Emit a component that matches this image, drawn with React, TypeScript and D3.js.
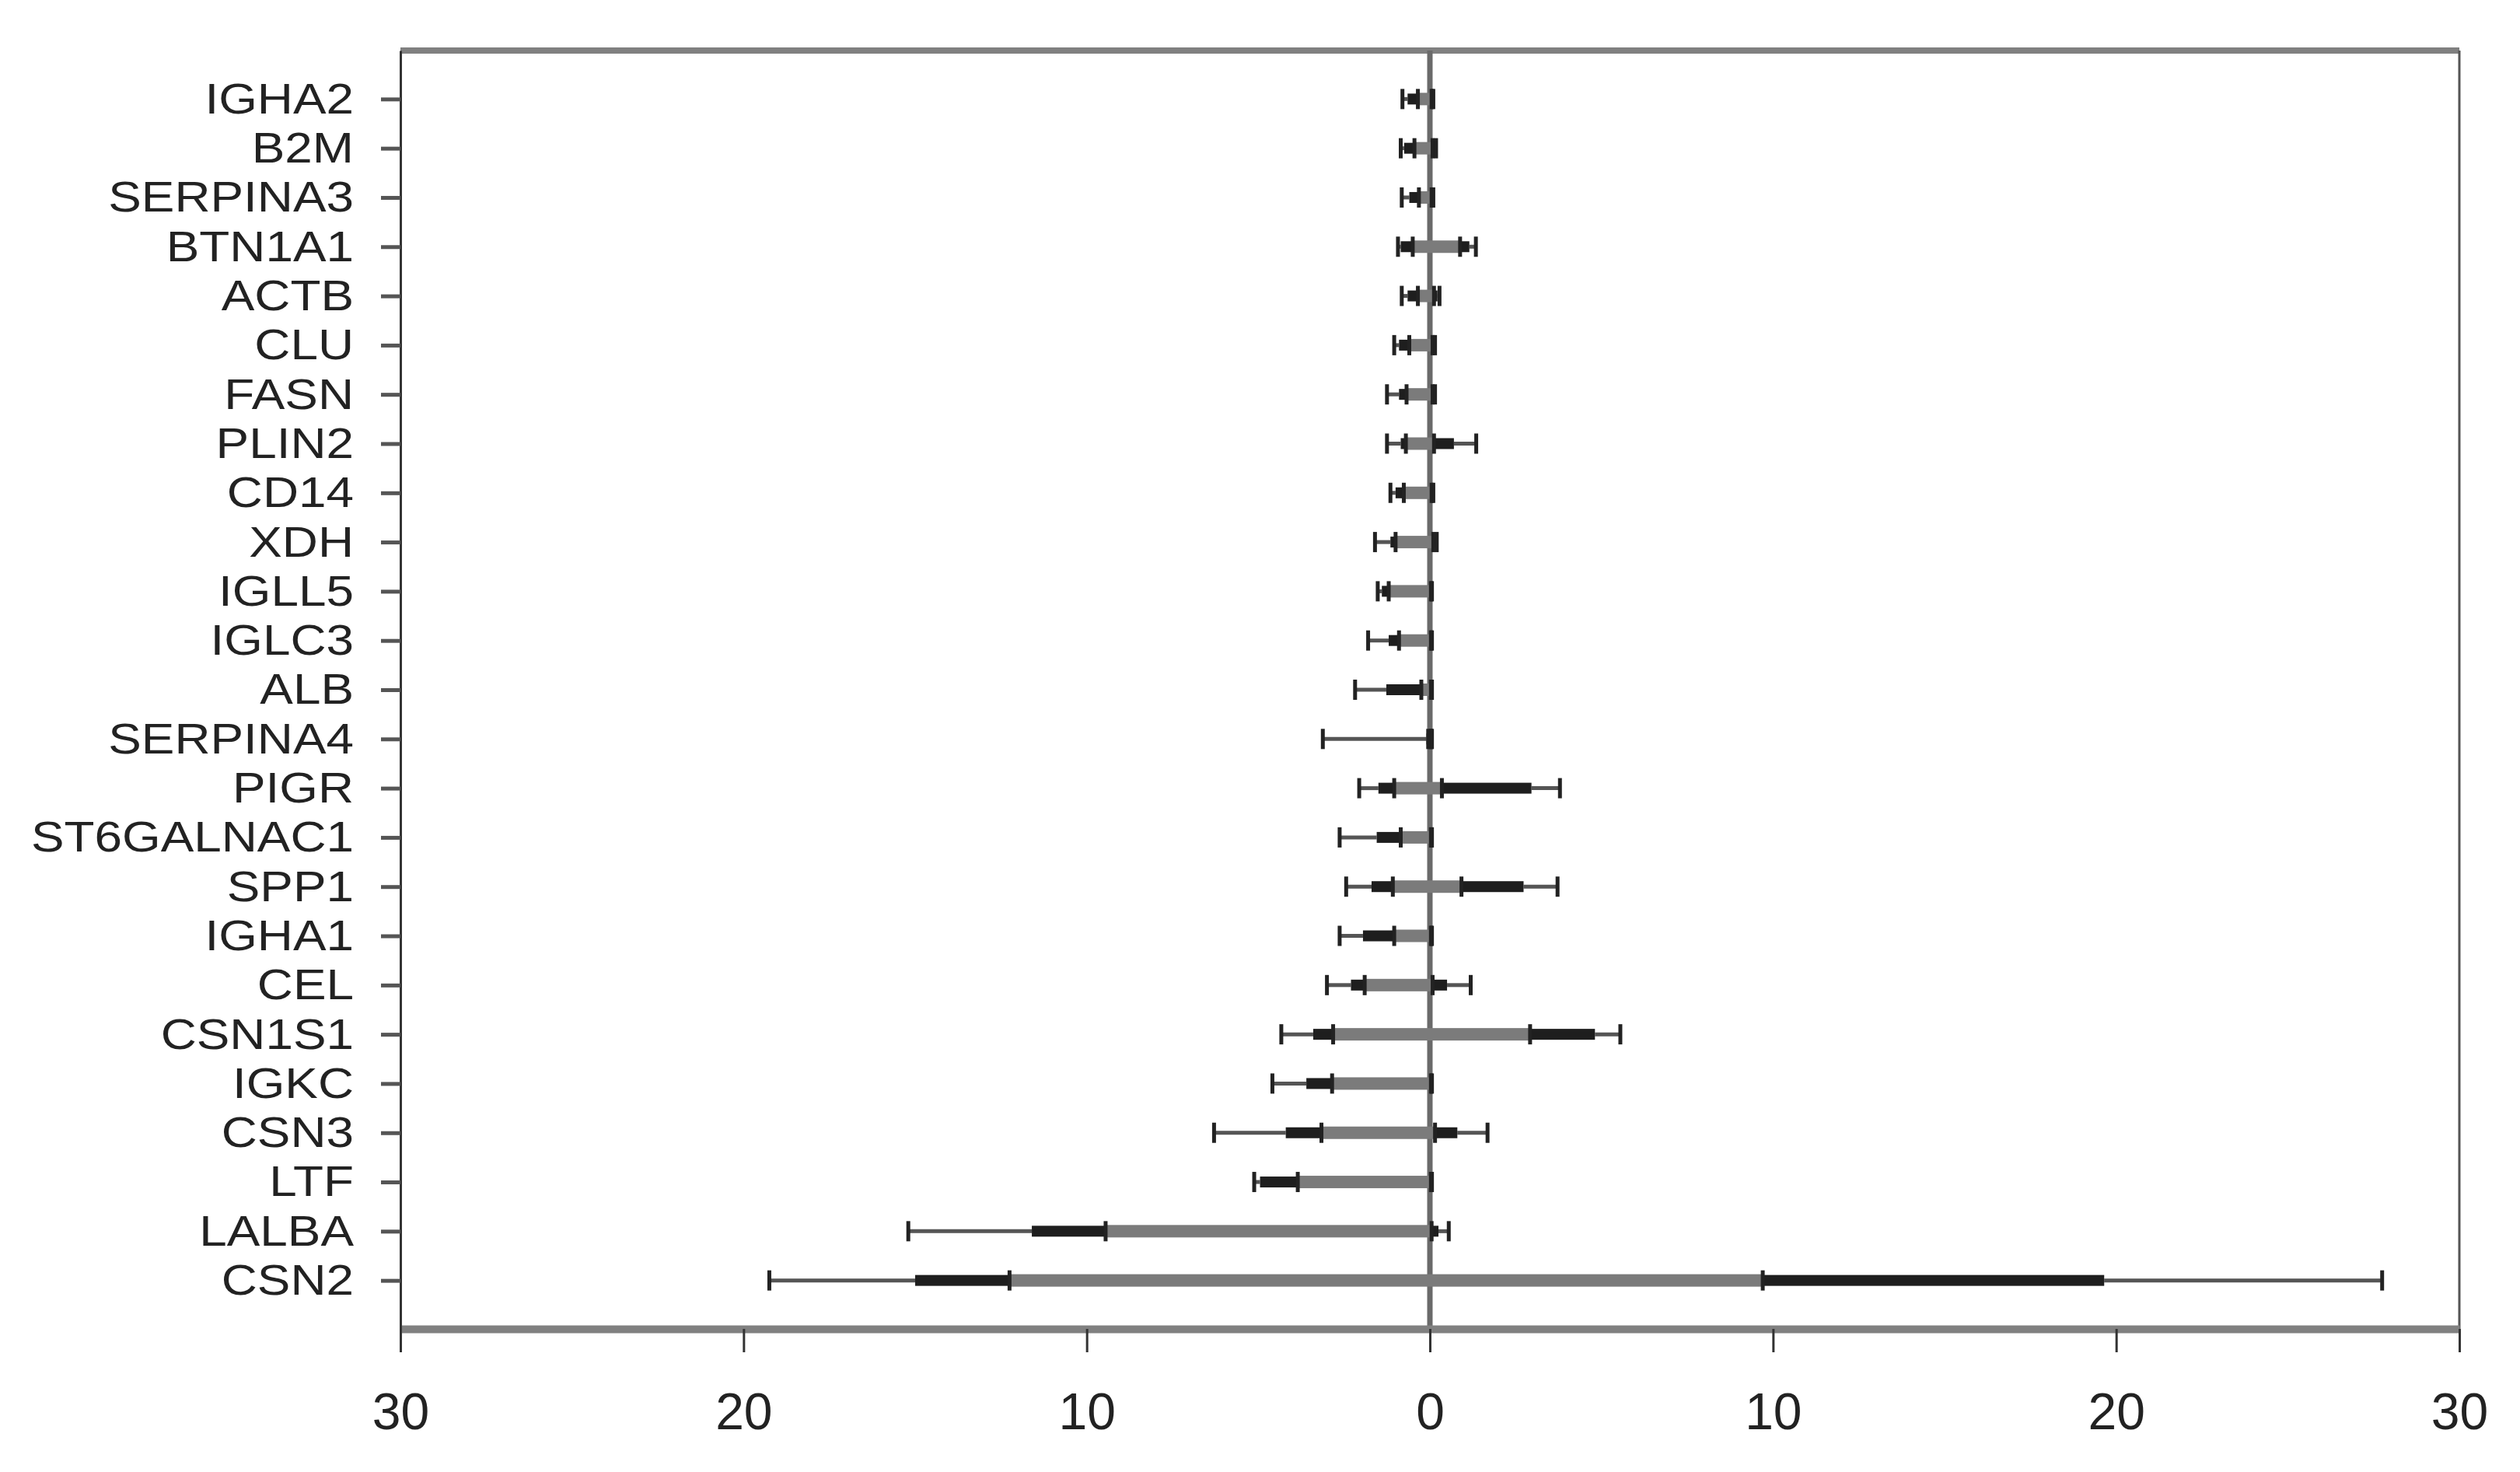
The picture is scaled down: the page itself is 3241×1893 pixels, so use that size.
import React, { useEffect, useRef } from 'react';
import * as d3 from 'd3';

// genes, top to bottom
const genes = [
  'IGHA2', 'B2M', 'SERPINA3', 'BTN1A1', 'ACTB', 'CLU', 'FASN', 'PLIN2', 'CD14', 'XDH',
  'IGLL5', 'IGLC3', 'ALB', 'SERPINA4', 'PIGR', 'ST6GALNAC1', 'SPP1', 'IGHA1', 'CEL',
  'CSN1S1', 'IGKC', 'CSN3', 'LTF', 'LALBA', 'CSN2',
];

// left side: gray bar end, dark bar end, whisker end
const leftBox = [
  -0.35, -0.45, -0.32, -0.5, -0.35, -0.6, -0.68, -0.7, -0.76, -1.0,
  -1.2, -0.9, -0.25, -0.05, -1.04, -0.85, -1.08, -1.04, -1.9,
  -2.82, -2.85, -3.16, -3.85, -9.45, -12.25,
];
const leftDark = [
  -0.65, -0.75, -0.6, -0.85, -0.65, -0.9, -0.9, -0.85, -1.0, -1.15,
  -1.4, -1.2, -1.27, -0.1, -1.5, -1.55, -1.7, -1.95, -2.3,
  -3.4, -3.6, -4.2, -4.95, -11.6, -15.0,
];
const leftWhisker = [
  -0.8, -0.85, -0.82, -0.93, -0.82, -1.04, -1.25, -1.25, -1.15, -1.6,
  -1.52, -1.8, -2.18, -3.12, -2.06, -2.63, -2.44, -2.63, -3.0,
  -4.33, -4.59, -6.29, -5.12, -15.2, -19.25,
];

// right side: gray bar end, dark bar end, whisker end
const rightBox = [
  0.05, 0.08, 0.05, 0.88, 0.12, 0.08, 0.08, 0.12, 0.05, 0.1,
  0.03, 0.03, 0.03, 0.03, 0.35, 0.03, 0.92, 0.03, 0.08,
  2.92, 0.03, 0.15, 0.03, 0.05, 9.7,
];
const rightDark = [
  0.08, 0.15, 0.08, 1.15, 0.22, 0.12, 0.12, 0.7, 0.08, 0.15,
  0.05, 0.05, 0.05, 0.05, 2.96, 0.05, 2.73, 0.05, 0.5,
  4.81, 0.05, 0.8, 0.05, 0.25, 19.65,
];
const rightWhisker = [
  0.1, 0.18, 0.1, 1.34, 0.28, 0.15, 0.15, 1.35, 0.1, 0.2,
  0.06, 0.06, 0.06, 0.06, 3.79, 0.06, 3.72, 0.06, 1.19,
  5.55, 0.06, 1.68, 0.06, 0.55, 27.75,
];

const xTicks = [-30, -20, -10, 0, 10, 20, 30];

const App = () => {
  const svgRef = useRef(null);

  useEffect(() => {
    const svg = d3.select(svgRef.current);
    svg.selectAll('*').remove();

    const width = 3241;
    const height = 1893;
    const margin = { top: 65, right: 78, bottom: 184, left: 515 };
    const font = '"Liberation Sans", Arial, sans-serif';

    svg.attr('width', width).attr('height', height);
    svg.append('rect').attr('width', width).attr('height', height).attr('fill', '#fff');

    const x = d3.scaleLinear().domain([-30, 30]).range([margin.left, width - margin.right]);
    const y = d3.scalePoint().domain(genes).range([margin.top, height - margin.bottom]).padding(0.985);

    const rows = genes.map((g, i) => ({
      g,
      sides: [
        [leftBox[i], leftDark[i], leftWhisker[i]],
        [rightBox[i], rightDark[i], rightWhisker[i]],
      ],
    }));

    const plot = svg.append('g');

    // frame: top thick gray, right thin
    plot.append('line')
      .attr('x1', x(-30)).attr('x2', x(30)).attr('y1', margin.top).attr('y2', margin.top)
      .attr('stroke', '#808080').attr('stroke-width', 8);
    plot.append('line')
      .attr('x1', x(30)).attr('x2', x(30)).attr('y1', margin.top).attr('y2', height - margin.bottom)
      .attr('stroke', '#555').attr('stroke-width', 3);

    // zero line
    plot.append('line')
      .attr('x1', x(0)).attr('x2', x(0)).attr('y1', margin.top).attr('y2', height - margin.bottom)
      .attr('stroke', '#6a6a6a').attr('stroke-width', 7);

    const g = plot.selectAll('g.row').data(rows).enter().append('g').attr('class', 'row')
      .attr('transform', (d) => `translate(0,${y(d.g)})`);

    g.each(function (row) {
      const rg = d3.select(this);
      row.sides.forEach(([a, b, c]) => {
        // whisker
        rg.append('line')
          .attr('x1', x(b)).attr('x2', x(c)).attr('y1', 0).attr('y2', 0)
          .attr('stroke', '#555').attr('stroke-width', 5);
        // gray bar
        rg.append('rect')
          .attr('x', Math.min(x(0), x(a))).attr('width', Math.abs(x(a) - x(0)))
          .attr('y', -8).attr('height', 16).attr('fill', '#7b7b7b');
        // dark bar
        rg.append('rect')
          .attr('x', Math.min(x(a), x(b))).attr('width', Math.abs(x(b) - x(a)))
          .attr('y', -7).attr('height', 14).attr('fill', '#1e1e1e');
        // caps
        [a, c].forEach((v) => {
          rg.append('line')
            .attr('x1', x(v)).attr('x2', x(v)).attr('y1', -13).attr('y2', 13)
            .attr('stroke', '#222').attr('stroke-width', 5);
        });
      });
    });

    // x axis
    const xAxis = svg.append('g')
      .attr('transform', `translate(0,${height - margin.bottom})`)
      .call(d3.axisBottom(x).tickValues(xTicks).tickSize(30).tickSizeOuter(0).tickPadding(52)
        .tickFormat((d) => String(Math.abs(d))));
    xAxis.select('.domain').attr('stroke', '#808080').attr('stroke-width', 10);
    xAxis.selectAll('.tick line').attr('stroke', '#333').attr('stroke-width', 3);
    xAxis.selectAll('text')
      .attr('font-family', font).attr('font-size', 66).attr('fill', '#222');

    // y axis - labels sized so neighbouring rows don't collide
    const yAxis = svg.append('g')
      .attr('transform', `translate(${margin.left},0)`)
      .call(d3.axisLeft(y).tickSize(25).tickSizeOuter(0).tickPadding(35));
    yAxis.select('.domain').attr('stroke', '#333').attr('stroke-width', 3);
    yAxis.selectAll('.tick line').attr('stroke', '#555').attr('stroke-width', 5);
    yAxis.selectAll('text')
      .attr('font-family', font).attr('font-size', 56).attr('fill', '#222')
      .attr('textLength', function () {
        // keep the reference's wider glyphs at the smaller size
        return (this as SVGTextElement).getComputedTextLength() * 1.14;
      })
      .attr('lengthAdjust', 'spacingAndGlyphs');
  }, []);

  return (
    <>
      <style>{'body{margin:0}'}</style>
      <svg ref={svgRef}></svg>
    </>
  );
};

export default App;
